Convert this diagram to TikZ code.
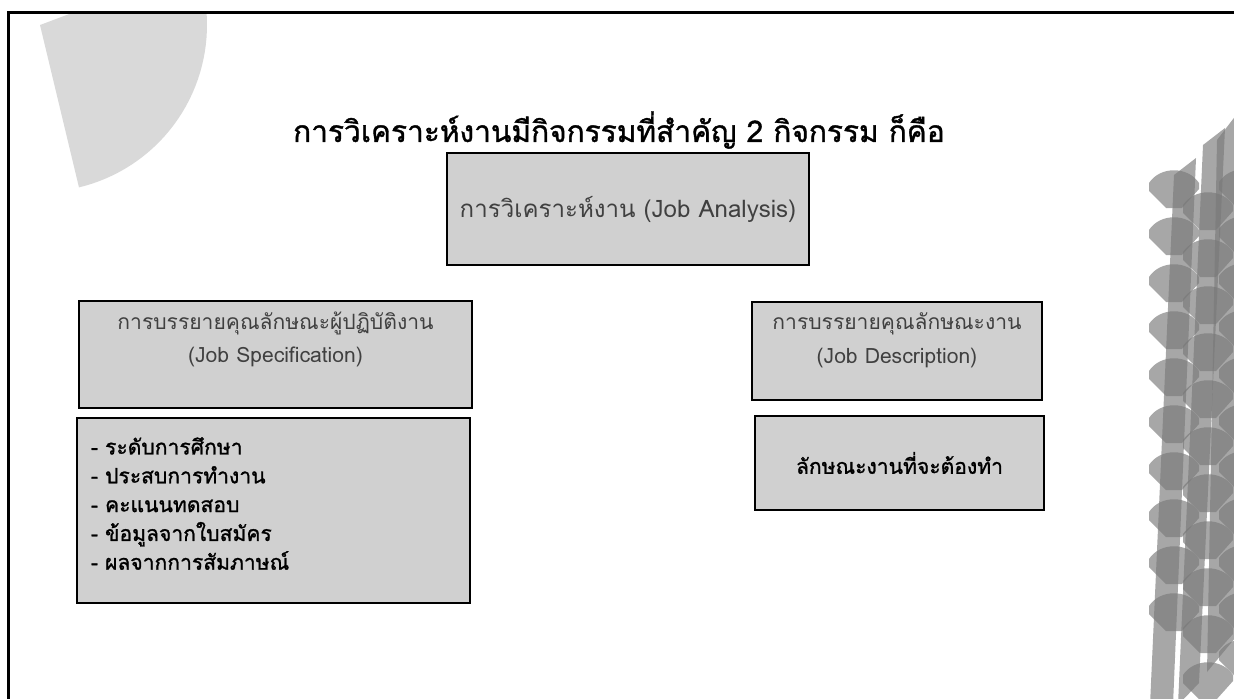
\documentclass[tikz,border=0pt]{standalone}
\usepackage{fontspec}
\newfontfamily\thaifont[Script=Thai]{Loma}
\newfontfamily\thaiheavy[Script=Thai,FakeBold=1.2]{Loma}
\usetikzlibrary{positioning}

\definecolor{boxfill}{RGB}{208,208,208}
\definecolor{labelgray}{RGB}{64,64,64}
\definecolor{wedgegray}{RGB}{217,217,217}
\definecolor{trackgray}{RGB}{121,121,121}

\tikzset{
  card/.style={draw=black, line width=1.6pt, fill=boxfill, inner sep=0pt},
  track/.style={fill=trackgray, fill opacity=0.66},
  heading/.style={font=\thaifont\fontsize{12}{19}\selectfont, text=labelgray, align=center, inner sep=0pt},
}

\begin{document}
\begin{tikzpicture}[x=0.02cm, y=-0.02cm, font=\thaifont]
\useasboundingbox (0,0) rectangle (1234,698);

\begin{scope}
\clip (8,12) rectangle (1234,698);
% corner wedge
\fill[wedgegray] (40,25) -- plot[domain=76.5:-20.6, samples=40] ({40+167*cos(\x)},{25+167*sin(\x)}) -- cycle;
% tyre track on the right
\fill[track] (1150,705) -- (1173,705) -- (1196,158) -- (1174,175) -- cycle;
\fill[track] (1178,705) -- (1199,683) -- (1225,128) -- (1203,145) -- cycle;
\fill[track] (1207,672) -- (1240,632) -- (1240,110) -- (1217,140) -- cycle;
\foreach \k in {-1,...,8}
  \fill[track, shift={(1174,218+47*\k)}]
    (-25,12) .. controls (-14,-5) and (14,-5) .. (25,12) -- (25,18) -- (8,37) -- (-8,37) -- (-25,20) -- cycle;
\foreach \k in {0,...,10}
  \fill[track, shift={(1208,193+47*\k)}]
    (-25,12) .. controls (-14,-5) and (14,-5) .. (25,12) -- (25,18) -- (8,37) -- (-8,37) -- (-25,20) -- cycle;
\foreach \k in {0,...,10}
  \fill[track, shift={(1244,170+47*\k)}]
    (-25,12) .. controls (-14,-5) and (14,-5) .. (25,12) -- (25,18) -- (8,37) -- (-8,37) -- (-25,20) -- cycle;
\end{scope}

% frame
\draw[line width=1.6pt] (8.5,720) |- (1260,12.5);

% title
\node[font=\thaiheavy\fontsize{17}{20}\selectfont, inner sep=0pt] (title) at (619,130)
  {การวิเคราะห์งานมีกิจกรรมที่สำคัญ 2 กิจกรรม ก็คือ};

% boxes
\node[card, minimum width=7.24cm, minimum height=2.24cm, heading, font=\thaifont\fontsize{13.7}{16}\selectfont] (analysis) at (628,209)
  {การวิเคราะห์งาน (Job Analysis)};

\node[card, minimum width=7.86cm, minimum height=2.14cm] (spec) at (275.5,354.5) {};
\node[heading, below=0.24cm of spec.north] (spectext)
  {การบรรยายคุณลักษณะผู้ปฏิบัติงาน\\(Job Specification)};

\node[card, minimum width=7.86cm, minimum height=3.7cm] (items) at (273.5,510.5) {};
\node[anchor=west, align=left, inner sep=0pt, font=\thaiheavy\fontsize{12}{16.4}\selectfont]
  (itemtext) at ([xshift=0.3cm, yshift=0.14cm]items.west)
  {- ระดับการศึกษา\\- ประสบการทำงาน\\- คะแนนทดสอบ\\- ข้อมูลจากใบสมัคร\\- ผลจากการสัมภาษณ์};

\node[card, minimum width=5.8cm, minimum height=1.96cm] (desc) at (897,351) {};
\node[heading, below=0.24cm of desc.north] (desctext)
  {การบรรยายคุณลักษณะงาน\\(Job Description)};

\node[card, minimum width=5.78cm, minimum height=1.88cm, font=\thaiheavy\fontsize{12}{16}\selectfont] (duty) at (899.5,463)
  {ลักษณะงานที่จะต้องทำ};
\end{tikzpicture}
\end{document}
